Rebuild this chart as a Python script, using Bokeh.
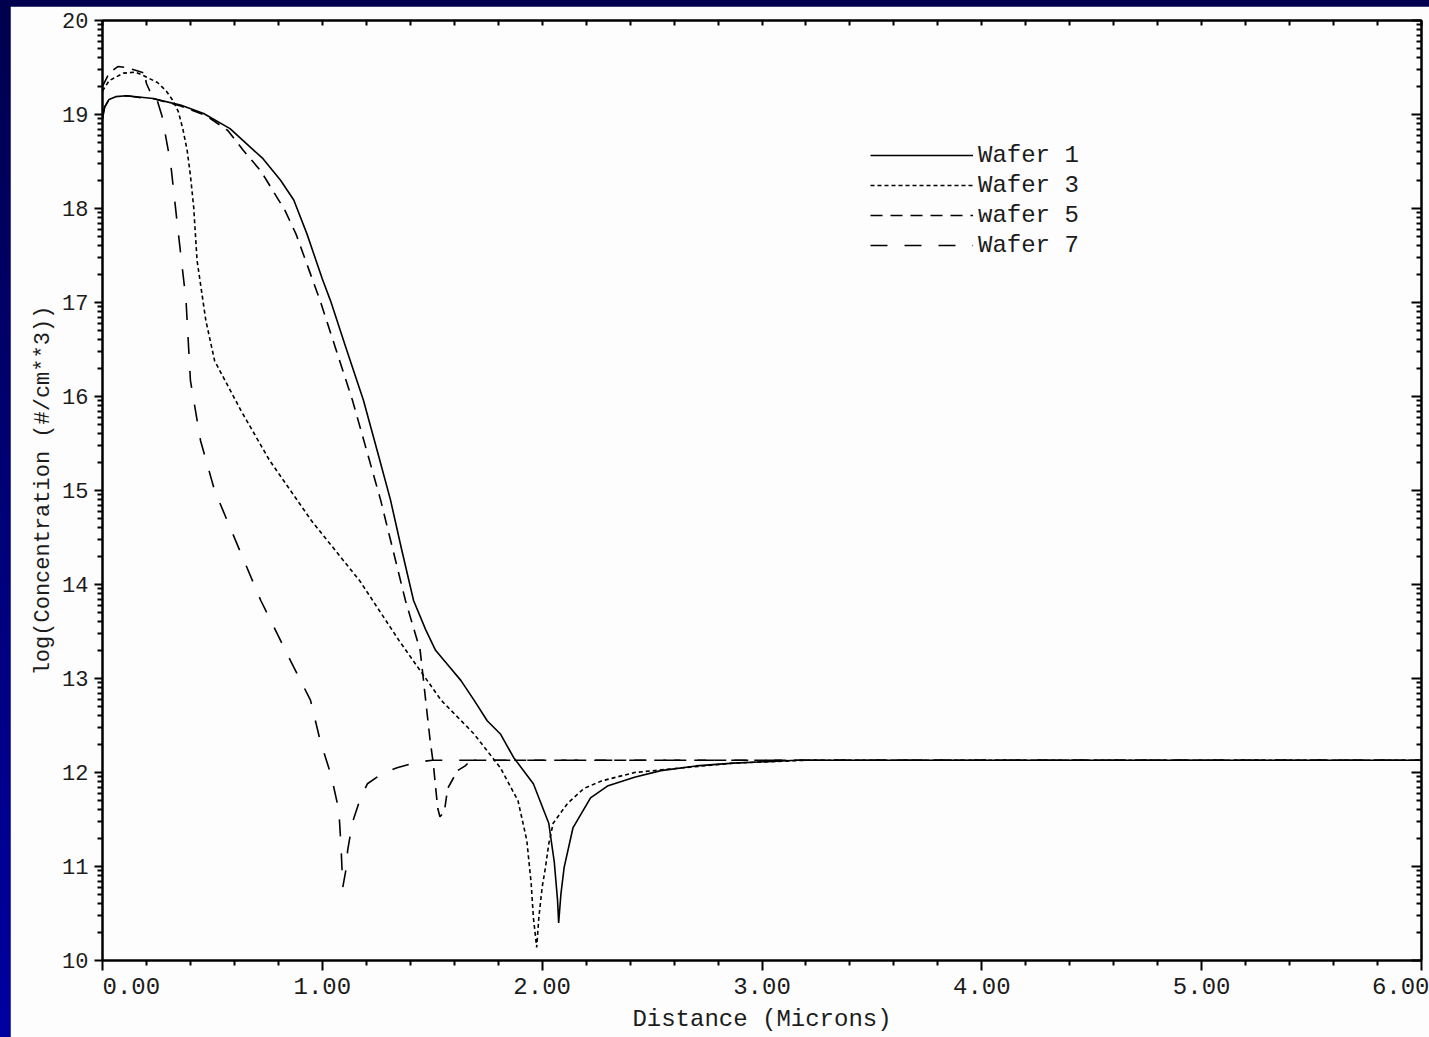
import numpy as np
from bokeh.plotting import figure
from bokeh.models import Range1d, FixedTicker, LinearAxis, Legend, LegendItem
from bokeh.layouts import column
from bokeh.embed import file_html
from bokeh.resources import INLINE

# Depth (microns) and log10 of dopant concentration for each wafer
wafer1_x = [0.000, 0.010, 0.030, 0.060, 0.110, 0.230, 0.355, 0.460, 0.580, 0.730, 0.810,
            0.870, 0.930, 1.000, 1.037, 1.110, 1.187, 1.250, 1.310, 1.360, 1.415, 1.470,
            1.515, 1.580, 1.630, 1.690, 1.750, 1.810, 1.870, 1.960, 2.030, 2.055, 2.070,
            2.075, 2.085, 2.100, 2.140, 2.220, 2.300, 2.420, 2.540, 2.700, 2.870, 3.160,
            3.500, 6.000]
wafer1_y = [18.95, 19.08, 19.16, 19.19, 19.20, 19.17, 19.10, 19.01, 18.85, 18.53, 18.30,
            18.09, 17.73, 17.25, 17.02, 16.50, 15.96, 15.42, 14.90, 14.38, 13.83, 13.52,
            13.30, 13.12, 12.98, 12.77, 12.55, 12.41, 12.16, 11.88, 11.46, 11.05, 10.64,
            10.40, 10.70, 10.99, 11.41, 11.73, 11.86, 11.95, 12.02, 12.07, 12.10, 12.13,
            12.13, 12.13]

wafer3_x = [0.000, 0.030, 0.095, 0.150, 0.190, 0.250, 0.290, 0.320, 0.345, 0.365, 0.385,
            0.400, 0.415, 0.430, 0.470, 0.510, 0.630, 0.760, 0.950, 1.170, 1.350, 1.540,
            1.690, 1.810, 1.890, 1.930, 1.950, 1.960, 1.975, 1.985, 2.000, 2.015, 2.030,
            2.050, 2.115, 2.190, 2.270, 2.420, 2.640, 2.870, 3.200, 6.000]
wafer3_y = [19.25, 19.36, 19.44, 19.45, 19.41, 19.34, 19.25, 19.15, 19.03, 18.85, 18.62,
            18.35, 18.01, 17.45, 16.81, 16.38, 15.85, 15.32, 14.68, 14.04, 13.40, 12.77,
            12.41, 12.05, 11.70, 11.28, 10.82, 10.46, 10.14, 10.46, 10.78, 10.99, 11.24,
            11.46, 11.67, 11.83, 11.91, 12.00, 12.05, 12.10, 12.13, 12.13]

wafer5_x = [0.000, 0.030, 0.070, 0.110, 0.150, 0.190, 0.200, 0.215, 0.230, 0.355, 0.470,
            0.570, 0.640, 0.720, 0.775, 0.830, 0.880, 0.990, 1.137, 1.265, 1.378, 1.445,
            1.478, 1.490, 1.505, 1.515, 1.525, 1.535, 1.555, 1.570, 1.615, 1.650, 1.675,
            6.000]
wafer5_y = [19.30, 19.44, 19.51, 19.50, 19.47, 19.44, 19.33, 19.25, 19.17, 19.09, 18.99,
            18.83, 18.62, 18.40, 18.19, 17.98, 17.73, 17.02, 15.96, 14.90, 13.83, 13.30,
            12.60, 12.35, 12.09, 11.85, 11.62, 11.53, 11.58, 11.83, 12.02, 12.07, 12.13,
            12.13]

wafer7_x = [0.000, 0.010, 0.030, 0.060, 0.110, 0.230, 0.250, 0.270, 0.310, 0.340, 0.380,
            0.400, 0.446, 0.510, 0.605, 0.720, 0.855, 0.946, 0.990, 1.040, 1.075, 1.085,
            1.093, 1.110, 1.115, 1.137, 1.174, 1.205, 1.280, 1.340, 1.430, 1.500, 6.000]
wafer7_y = [18.98, 19.08, 19.16, 19.19, 19.20, 19.16, 19.14, 18.99, 18.48, 17.84, 17.02,
            16.17, 15.53, 15.00, 14.47, 13.83, 13.19, 12.77, 12.34, 11.97, 11.60, 11.22,
            10.78, 11.00, 11.17, 11.47, 11.73, 11.88, 12.00, 12.05, 12.11, 12.13, 12.13]

series_names = ["Wafer 1", "Wafer 3", "wafer 5", "Wafer 7"]
series_dash = ["solid", "4 3", "12 8", "17 17"]

x_tick_values = [0, 1, 2, 3, 4, 5, 6]
x_tick_labels = ["0.00", "1.00", "2.00", "3.00", "4.00", "5.00", "6.00"]
y_tick_values = [10, 11, 12, 13, 14, 15, 16, 17, 18, 19, 20]

FONT = "Liberation Mono"
INK = "#1c1c1c"
NBSP = "\u00a0"

# minor ticks: fifths of a micron along x, log-decade subdivisions along y
x_minor = [i * 0.2 for i in range(31) if i % 5]
y_minor = [d + np.log10(k) for d in y_tick_values[:-1] for k in range(2, 10)]

p = figure(width=1419, height=1031,
           x_range=Range1d(x_tick_values[0], x_tick_values[-1]),
           y_range=Range1d(y_tick_values[0], y_tick_values[-1]),
           output_backend="svg", toolbar_location=None,
           min_border_left=92, min_border_right=8, min_border_top=14, min_border_bottom=77,
           background_fill_color="#fdfdfd", border_fill_color="#fdfdfd")
p.margin = (6, 0, 0, 10)
p.grid.visible = False
p.outline_line_color = "black"
p.outline_line_width = 2


def style_axis(ax):
    ax.axis_line_color = "black"
    ax.axis_line_width = 2
    ax.major_tick_line_color = "black"
    ax.major_tick_line_width = 2
    ax.minor_tick_line_color = "black"
    ax.minor_tick_line_width = 2
    ax.major_label_text_font = FONT
    ax.major_label_text_color = INK
    ax.axis_label_text_font = FONT
    ax.axis_label_text_font_style = "normal"
    ax.axis_label_text_color = INK


# the first label is padded so that it starts at the axis corner
x_label_text = {}
for v, t in zip(x_tick_values, x_tick_labels):
    if v == x_tick_values[0]:
        x_label_text[v] = NBSP * len(t) + t
    else:
        x_label_text[v] = t

xa = p.xaxis[0]
style_axis(xa)
xa.ticker = FixedTicker(ticks=x_tick_values, minor_ticks=x_minor)
xa.major_tick_out, xa.major_tick_in = 10, 0
xa.minor_tick_out, xa.minor_tick_in = 5, 0
xa.major_label_overrides = x_label_text
xa.major_label_text_font_size = "24px"
xa.major_label_standoff = 3
xa.axis_label = "Distance (Microns)"
xa.axis_label_text_font_size = "24px"
xa.axis_label_standoff = 2

ya = p.yaxis[0]
style_axis(ya)
ya.ticker = FixedTicker(ticks=y_tick_values, minor_ticks=y_minor)
ya.major_tick_out, ya.major_tick_in = 8, 0
ya.minor_tick_out, ya.minor_tick_in = 5, 0
ya.major_label_text_font_size = "22px"
ya.major_label_standoff = 6
ya.axis_label = "log(Concentration (#/cm**3))"
ya.axis_label_text_font_size = "22px"
ya.axis_label_standoff = 3

# top edge: every tick the same short inward length
top = LinearAxis(ticker=FixedTicker(ticks=[], minor_ticks=sorted(x_tick_values + x_minor)))
style_axis(top)
top.minor_tick_out, top.minor_tick_in = 0, 5
top.major_tick_out, top.major_tick_in = 0, 0
p.add_layout(top, "above")

# right edge: inward ticks, no labels
right = LinearAxis(ticker=FixedTicker(ticks=y_tick_values, minor_ticks=y_minor))
style_axis(right)
right.major_tick_out, right.major_tick_in = 0, 10
right.minor_tick_out, right.minor_tick_in = 0, 5
right.major_label_overrides = {v: "" for v in y_tick_values}
right.major_label_text_color = None
right.major_label_standoff = 0
p.add_layout(right, "right")

xs = [wafer1_x, wafer3_x, wafer5_x, wafer7_x]
ys = [wafer1_y, wafer3_y, wafer5_y, wafer7_y]
items = []
for name, dash, x, y in zip(series_names, series_dash, xs, ys):
    r = p.line(x, y, line_color="black", line_width=1.6, line_dash=dash)
    items.append(LegendItem(label=name, renderers=[r]))

legend = Legend(items=items, location=(768, 700), orientation="vertical",
                glyph_width=103, glyph_height=30, label_height=30, label_width=110,
                label_standoff=5, spacing=0, padding=0, margin=0,
                border_line_alpha=0, background_fill_alpha=0,
                label_text_font=FONT, label_text_font_size="24px",
                label_text_color=INK)
p.add_layout(legend)

page = column(p, width=1429, height=1037,
              styles={"background": "linear-gradient(to bottom, #00004e, #0000a0)"})

open("out.html", "w").write(file_html(page, INLINE))
